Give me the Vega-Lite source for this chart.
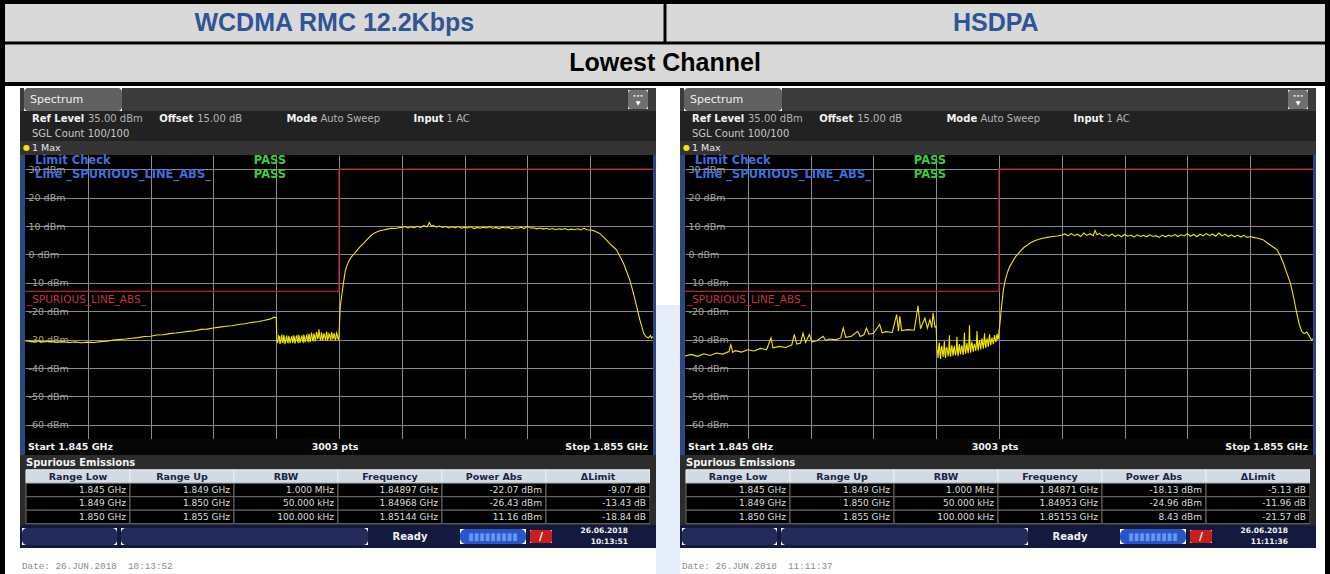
{
"$schema": "https://vega.github.io/schema/vega-lite/v6.json",
"padding": 0,
"background": "#ffffff",
"spacing": 0,
"config": {"view": {"stroke": null}, "font": "DejaVu Sans", "concat": {"spacing": 0}},
"datasets": {
"modes": [{"mode": "WCDMA RMC 12.2Kbps"}, {"mode": "HSDPA"}],
"info": [
 {"label": "Ref Level", "value": "35.00 dBm"},
 {"label": "Offset", "value": "15.00 dB"},
 {"label": "Mode", "value": "Auto Sweep"},
 {"label": "Input", "value": "1 AC"}
],
"limits": [
 {"rangeLow": 1.845, "rangeUp": 1.849, "limit": -13},
 {"rangeLow": 1.849, "rangeUp": 1.85, "limit": -13},
 {"rangeLow": 1.85, "rangeUp": 1.855, "limit": 30}
],
"tableW": [
 {"row": "1", "Range Low": "1.845 GHz", "Range Up": "1.849 GHz", "RBW": "1.000 MHz", "Frequency": "1.84897 GHz", "Power Abs": "-22.07 dBm", "ΔLimit": "-9.07 dB"},
 {"row": "2", "Range Low": "1.849 GHz", "Range Up": "1.850 GHz", "RBW": "50.000 kHz", "Frequency": "1.84968 GHz", "Power Abs": "-26.43 dBm", "ΔLimit": "-13.43 dB"},
 {"row": "3", "Range Low": "1.850 GHz", "Range Up": "1.855 GHz", "RBW": "100.000 kHz", "Frequency": "1.85144 GHz", "Power Abs": "11.16 dBm", "ΔLimit": "-18.84 dB"}
],
"tableH": [
 {"row": "1", "Range Low": "1.845 GHz", "Range Up": "1.849 GHz", "RBW": "1.000 MHz", "Frequency": "1.84871 GHz", "Power Abs": "-18.13 dBm", "ΔLimit": "-5.13 dB"},
 {"row": "2", "Range Low": "1.849 GHz", "Range Up": "1.850 GHz", "RBW": "50.000 kHz", "Frequency": "1.84953 GHz", "Power Abs": "-24.96 dBm", "ΔLimit": "-11.96 dB"},
 {"row": "3", "Range Low": "1.850 GHz", "Range Up": "1.855 GHz", "RBW": "100.000 kHz", "Frequency": "1.85153 GHz", "Power Abs": "8.43 dBm", "ΔLimit": "-21.57 dB"}
],
"traceW": [
{"f":1.8450,"p":-30.4},{"f":1.8451,"p":-30.7},{"f":1.8452,"p":-30.5},{"f":1.8453,"p":-30.8},{"f":1.8454,"p":-30.6},{"f":1.8455,"p":-30.9},{"f":1.8456,"p":-30.7},{"f":1.8457,"p":-31.0},{"f":1.8458,"p":-30.8},{"f":1.8459,"p":-31.1},
{"f":1.8460,"p":-30.9},{"f":1.8461,"p":-31.0},{"f":1.8462,"p":-30.7},{"f":1.8463,"p":-30.6},{"f":1.8464,"p":-30.2},{"f":1.8465,"p":-30.0},{"f":1.8466,"p":-29.8},{"f":1.8467,"p":-29.5},{"f":1.8468,"p":-29.3},{"f":1.8469,"p":-28.9},
{"f":1.8470,"p":-28.8},{"f":1.8471,"p":-28.4},{"f":1.8472,"p":-28.3},{"f":1.8473,"p":-27.9},{"f":1.8474,"p":-27.7},{"f":1.8475,"p":-27.4},{"f":1.8476,"p":-27.1},{"f":1.8477,"p":-26.9},{"f":1.8478,"p":-26.4},{"f":1.8479,"p":-26.3},
{"f":1.8480,"p":-25.9},{"f":1.8481,"p":-25.6},{"f":1.8482,"p":-25.3},{"f":1.8483,"p":-25.1},{"f":1.8484,"p":-24.7},{"f":1.8485,"p":-24.4},{"f":1.8486,"p":-24.0},{"f":1.8487,"p":-23.7},{"f":1.8488,"p":-23.3},{"f":1.8489,"p":-22.8},
{"f":1.84897,"p":-22.1},{"f":1.84900,"p":-22.3},
{"f":1.84902,"p":-31.2},{"f":1.84904,"p":-28.6},{"f":1.84906,"p":-31.5},{"f":1.84908,"p":-29.0},{"f":1.84910,"p":-30.8},{"f":1.84912,"p":-28.4},{"f":1.84914,"p":-31.6},{"f":1.84916,"p":-29.2},{"f":1.84918,"p":-30.9},{"f":1.84920,"p":-28.7},
{"f":1.84922,"p":-31.3},{"f":1.84924,"p":-29.4},{"f":1.84926,"p":-31.0},{"f":1.84928,"p":-28.5},{"f":1.84930,"p":-31.4},{"f":1.84932,"p":-28.9},{"f":1.84934,"p":-30.7},{"f":1.84936,"p":-28.3},{"f":1.84938,"p":-31.2},{"f":1.84940,"p":-29.1},
{"f":1.84942,"p":-30.6},{"f":1.84944,"p":-28.2},{"f":1.84946,"p":-31.0},{"f":1.84948,"p":-28.8},{"f":1.84950,"p":-30.5},{"f":1.84952,"p":-28.0},{"f":1.84954,"p":-30.9},{"f":1.84956,"p":-27.6},{"f":1.84958,"p":-30.2},{"f":1.84960,"p":-27.9},
{"f":1.84962,"p":-30.6},{"f":1.84964,"p":-27.3},{"f":1.84966,"p":-29.8},{"f":1.84968,"p":-26.4},{"f":1.84970,"p":-29.9},{"f":1.84972,"p":-27.5},{"f":1.84974,"p":-30.3},{"f":1.84976,"p":-27.8},{"f":1.84978,"p":-29.7},{"f":1.84980,"p":-27.2},
{"f":1.84982,"p":-30.0},{"f":1.84984,"p":-27.9},{"f":1.84986,"p":-29.6},{"f":1.84988,"p":-27.4},{"f":1.84990,"p":-29.9},{"f":1.84992,"p":-27.7},{"f":1.84994,"p":-30.1},{"f":1.84996,"p":-27.6},{"f":1.84998,"p":-29.5},{"f":1.85000,"p":-28.8},
{"f":1.84901,"p":-29.8},{"f":1.84903,"p":-30.4},{"f":1.84905,"p":-28.9},{"f":1.84907,"p":-30.9},{"f":1.84909,"p":-28.5},{"f":1.84911,"p":-31.0},{"f":1.84913,"p":-29.3},{"f":1.84915,"p":-30.5},{"f":1.84917,"p":-28.8},{"f":1.84919,"p":-31.1},
{"f":1.84921,"p":-29.6},{"f":1.84923,"p":-30.2},{"f":1.84925,"p":-28.7},{"f":1.84927,"p":-30.8},{"f":1.84929,"p":-29.4},{"f":1.84931,"p":-30.3},{"f":1.84933,"p":-28.6},{"f":1.84935,"p":-31.0},{"f":1.84937,"p":-29.5},{"f":1.84939,"p":-30.1},
{"f":1.84941,"p":-28.7},{"f":1.84943,"p":-30.9},{"f":1.84945,"p":-29.3},{"f":1.84947,"p":-30.2},{"f":1.84949,"p":-28.4},{"f":1.84951,"p":-30.7},{"f":1.84953,"p":-28.8},{"f":1.84955,"p":-30.0},{"f":1.84957,"p":-28.3},{"f":1.84959,"p":-30.4},
{"f":1.84961,"p":-28.5},{"f":1.84963,"p":-29.7},{"f":1.84965,"p":-28.0},{"f":1.84967,"p":-29.2},{"f":1.84969,"p":-28.3},{"f":1.84971,"p":-30.1},{"f":1.84973,"p":-28.2},{"f":1.84975,"p":-29.4},{"f":1.84977,"p":-28.6},{"f":1.84979,"p":-30.2},
{"f":1.84981,"p":-28.1},{"f":1.84983,"p":-29.5},{"f":1.84985,"p":-28.3},{"f":1.84987,"p":-30.0},{"f":1.84989,"p":-28.0},{"f":1.84991,"p":-29.3},{"f":1.84993,"p":-28.4},{"f":1.84995,"p":-29.8},{"f":1.84997,"p":-28.1},{"f":1.84999,"p":-29.9},
{"f":1.85002,"p":-18.3},{"f":1.85005,"p":-13.5},{"f":1.85007,"p":-10.1},{"f":1.85010,"p":-6.0},{"f":1.85012,"p":-4.3},{"f":1.85016,"p":-2.2},{"f":1.85020,"p":-0.8},{"f":1.85025,"p":0.4},{"f":1.85030,"p":1.8},{"f":1.85035,"p":3.0},
{"f":1.85039,"p":3.9},{"f":1.85045,"p":5.3},{"f":1.85050,"p":6.4},{"f":1.85055,"p":7.4},{"f":1.85060,"p":7.9},{"f":1.85065,"p":8.3},{"f":1.85071,"p":8.6},{"f":1.85077,"p":8.9},{"f":1.85083,"p":9.2},{"f":1.85090,"p":9.1},
{"f":1.85095,"p":9.4},{"f":1.85100,"p":9.5},{"f":1.85105,"p":9.8},{"f":1.85110,"p":9.3},{"f":1.85115,"p":9.7},{"f":1.85120,"p":9.4},{"f":1.85125,"p":9.9},{"f":1.85130,"p":9.5},{"f":1.85135,"p":10.1},{"f":1.85140,"p":9.7},
{"f":1.85144,"p":11.16},{"f":1.85147,"p":9.9},{"f":1.85150,"p":10.2},{"f":1.85155,"p":9.6},{"f":1.85160,"p":10.0},{"f":1.85165,"p":9.5},{"f":1.85170,"p":9.8},{"f":1.85175,"p":9.3},{"f":1.85180,"p":9.7},{"f":1.85185,"p":9.4},
{"f":1.85190,"p":9.8},{"f":1.85195,"p":9.2},{"f":1.85200,"p":9.6},{"f":1.85205,"p":9.3},{"f":1.85210,"p":9.7},{"f":1.85215,"p":9.1},{"f":1.85220,"p":9.5},{"f":1.85225,"p":9.2},{"f":1.85230,"p":9.6},{"f":1.85235,"p":9.3},
{"f":1.85240,"p":9.7},{"f":1.85245,"p":9.2},{"f":1.85250,"p":9.5},{"f":1.85255,"p":9.1},{"f":1.85260,"p":9.6},{"f":1.85265,"p":9.3},{"f":1.85270,"p":9.5},{"f":1.85275,"p":9.0},{"f":1.85280,"p":9.4},{"f":1.85285,"p":9.2},
{"f":1.85290,"p":9.6},{"f":1.85295,"p":9.1},{"f":1.85300,"p":9.9},{"f":1.85305,"p":9.3},{"f":1.85310,"p":9.4},{"f":1.85315,"p":9.0},{"f":1.85320,"p":9.3},{"f":1.85325,"p":8.9},{"f":1.85330,"p":9.2},{"f":1.85335,"p":8.8},
{"f":1.85340,"p":9.1},{"f":1.85345,"p":8.7},{"f":1.85350,"p":9.0},{"f":1.85355,"p":8.8},{"f":1.85360,"p":9.1},{"f":1.85365,"p":8.6},{"f":1.85370,"p":8.9},{"f":1.85375,"p":8.7},{"f":1.85380,"p":9.0},{"f":1.85385,"p":8.6},
{"f":1.85390,"p":9.2},{"f":1.85395,"p":8.7},{"f":1.85400,"p":8.6},{"f":1.85405,"p":8.4},{"f":1.85410,"p":7.9},{"f":1.85415,"p":7.4},{"f":1.85421,"p":6.2},{"f":1.85426,"p":5.0},{"f":1.85432,"p":3.6},{"f":1.85437,"p":2.6},
{"f":1.85442,"p":1.6},{"f":1.85447,"p":-0.6},{"f":1.85453,"p":-3.1},{"f":1.85458,"p":-6.0},{"f":1.85463,"p":-9.0},{"f":1.85468,"p":-13.0},{"f":1.85474,"p":-18.3},{"f":1.85479,"p":-23.0},{"f":1.85485,"p":-27.7},{"f":1.85489,"p":-29.0},
{"f":1.85493,"p":-29.4},{"f":1.85496,"p":-28.6},{"f":1.85498,"p":-29.5},{"f":1.85500,"p":-28.9}
],
"traceH": [
{"f":1.84500,"p":-35.8},{"f":1.84510,"p":-35.2},{"f":1.84520,"p":-35.9},{"f":1.84530,"p":-35.0},{"f":1.84540,"p":-35.6},{"f":1.84550,"p":-34.7},{"f":1.84560,"p":-35.1},{"f":1.84570,"p":-34.2},{"f":1.84573,"p":-31.8},{"f":1.84576,"p":-34.5},
{"f":1.84580,"p":-33.9},{"f":1.84590,"p":-34.4},{"f":1.84600,"p":-33.6},{"f":1.84610,"p":-34.0},{"f":1.84620,"p":-33.1},{"f":1.84630,"p":-33.5},{"f":1.84637,"p":-29.4},{"f":1.84640,"p":-32.9},{"f":1.84650,"p":-32.4},{"f":1.84660,"p":-32.8},
{"f":1.84670,"p":-31.9},{"f":1.84674,"p":-28.2},{"f":1.84678,"p":-31.6},{"f":1.84684,"p":-31.2},{"f":1.84688,"p":-27.7},{"f":1.84692,"p":-31.0},{"f":1.84698,"p":-28.2},{"f":1.84702,"p":-30.8},{"f":1.84710,"p":-30.4},{"f":1.84720,"p":-28.8},
{"f":1.84724,"p":-30.3},{"f":1.84730,"p":-29.8},{"f":1.84740,"p":-30.1},{"f":1.84748,"p":-29.4},{"f":1.84752,"p":-25.9},{"f":1.84756,"p":-29.2},{"f":1.84765,"p":-28.8},{"f":1.84775,"p":-27.1},{"f":1.84779,"p":-28.9},{"f":1.84785,"p":-28.3},
{"f":1.84789,"p":-25.9},{"f":1.84793,"p":-28.1},{"f":1.84800,"p":-27.8},{"f":1.84810,"p":-24.7},{"f":1.84814,"p":-27.6},{"f":1.84820,"p":-27.2},{"f":1.84830,"p":-27.5},{"f":1.84837,"p":-21.2},{"f":1.84840,"p":-27.0},{"f":1.84842,"p":-21.8},
{"f":1.84845,"p":-26.8},{"f":1.84855,"p":-26.5},{"f":1.84865,"p":-26.7},{"f":1.84871,"p":-18.13},{"f":1.84875,"p":-26.2},{"f":1.84882,"p":-22.4},{"f":1.84886,"p":-26.0},{"f":1.84890,"p":-23.0},{"f":1.84893,"p":-25.8},{"f":1.84895,"p":-20.6},
{"f":1.84898,"p":-25.5},{"f":1.84900,"p":-25.3},
{"f":1.84901,"p":-33.5},{"f":1.84903,"p":-36.5},{"f":1.84905,"p":-31.0},{"f":1.84907,"p":-36.8},{"f":1.84909,"p":-32.2},{"f":1.84911,"p":-36.1},{"f":1.84913,"p":-30.5},{"f":1.84915,"p":-36.4},{"f":1.84917,"p":-32.8},{"f":1.84919,"p":-35.9},
{"f":1.84921,"p":-28.5},{"f":1.84923,"p":-36.0},{"f":1.84925,"p":-31.9},{"f":1.84927,"p":-35.7},{"f":1.84929,"p":-32.5},{"f":1.84931,"p":-35.5},{"f":1.84933,"p":-29.0},{"f":1.84935,"p":-35.8},{"f":1.84937,"p":-31.6},{"f":1.84939,"p":-35.2},
{"f":1.84941,"p":-32.0},{"f":1.84943,"p":-35.4},{"f":1.84945,"p":-27.5},{"f":1.84947,"p":-35.0},{"f":1.84949,"p":-31.2},{"f":1.84951,"p":-34.8},{"f":1.84953,"p":-24.96},{"f":1.84955,"p":-34.6},{"f":1.84957,"p":-30.8},{"f":1.84959,"p":-34.3},
{"f":1.84961,"p":-31.5},{"f":1.84963,"p":-34.0},{"f":1.84965,"p":-27.0},{"f":1.84967,"p":-33.8},{"f":1.84969,"p":-30.2},{"f":1.84971,"p":-33.5},{"f":1.84973,"p":-29.6},{"f":1.84975,"p":-33.2},{"f":1.84977,"p":-27.8},{"f":1.84979,"p":-32.9},
{"f":1.84981,"p":-29.8},{"f":1.84983,"p":-32.6},{"f":1.84985,"p":-28.1},{"f":1.84987,"p":-32.0},{"f":1.84989,"p":-29.5},{"f":1.84991,"p":-31.6},{"f":1.84993,"p":-28.4},{"f":1.84995,"p":-30.9},{"f":1.84997,"p":-28.0},{"f":1.84999,"p":-29.5},
{"f":1.84902,"p":-34.0},{"f":1.84904,"p":-32.5},{"f":1.84906,"p":-35.2},{"f":1.84908,"p":-33.0},{"f":1.84910,"p":-34.6},{"f":1.84912,"p":-33.4},{"f":1.84914,"p":-35.5},{"f":1.84916,"p":-33.1},{"f":1.84918,"p":-34.2},{"f":1.84920,"p":-33.6},
{"f":1.84922,"p":-35.0},{"f":1.84924,"p":-33.2},{"f":1.84926,"p":-34.4},{"f":1.84928,"p":-32.9},{"f":1.84930,"p":-34.8},{"f":1.84932,"p":-33.5},{"f":1.84934,"p":-34.1},{"f":1.84936,"p":-32.6},{"f":1.84938,"p":-34.5},{"f":1.84940,"p":-32.8},
{"f":1.84942,"p":-34.0},{"f":1.84944,"p":-32.3},{"f":1.84946,"p":-33.9},{"f":1.84948,"p":-32.5},{"f":1.84950,"p":-33.6},{"f":1.84952,"p":-32.0},{"f":1.84954,"p":-33.3},{"f":1.84956,"p":-31.8},{"f":1.84958,"p":-33.0},{"f":1.84960,"p":-32.2},
{"f":1.84962,"p":-32.7},{"f":1.84964,"p":-31.4},{"f":1.84966,"p":-32.5},{"f":1.84968,"p":-31.2},{"f":1.84970,"p":-32.0},{"f":1.84972,"p":-30.9},{"f":1.84974,"p":-31.7},{"f":1.84976,"p":-30.6},{"f":1.84978,"p":-31.5},{"f":1.84980,"p":-30.4},
{"f":1.84982,"p":-31.1},{"f":1.84984,"p":-30.0},{"f":1.84986,"p":-30.8},{"f":1.84988,"p":-29.9},{"f":1.84990,"p":-30.5},{"f":1.84992,"p":-29.6},{"f":1.84994,"p":-30.2},{"f":1.84996,"p":-29.0},{"f":1.84998,"p":-29.8},
{"f":1.85000,"p":-27.0},{"f":1.85001,"p":-25.5},{"f":1.85004,"p":-18.5},{"f":1.85007,"p":-12.5},{"f":1.85010,"p":-9.0},{"f":1.85014,"p":-6.0},{"f":1.85017,"p":-4.3},{"f":1.85022,"p":-2.4},{"f":1.85027,"p":-0.6},{"f":1.85031,"p":0.4},
{"f":1.85036,"p":1.6},{"f":1.85040,"p":2.5},{"f":1.85045,"p":3.2},{"f":1.85049,"p":3.9},{"f":1.85055,"p":4.6},{"f":1.85060,"p":5.1},{"f":1.85065,"p":5.4},{"f":1.85070,"p":5.7},{"f":1.85077,"p":6.0},{"f":1.85085,"p":6.3},
{"f":1.85093,"p":6.5},{"f":1.85101,"p":6.8},{"f":1.85105,"p":7.2},{"f":1.85110,"p":6.5},{"f":1.85115,"p":7.4},{"f":1.85120,"p":6.6},{"f":1.85125,"p":7.1},{"f":1.85130,"p":6.3},{"f":1.85135,"p":7.5},{"f":1.85140,"p":6.7},
{"f":1.85145,"p":7.3},{"f":1.85150,"p":6.6},{"f":1.85153,"p":8.43},{"f":1.85156,"p":6.9},{"f":1.85160,"p":7.4},{"f":1.85165,"p":6.5},{"f":1.85170,"p":7.0},{"f":1.85175,"p":6.4},{"f":1.85180,"p":7.2},{"f":1.85185,"p":6.3},
{"f":1.85190,"p":6.9},{"f":1.85195,"p":6.2},{"f":1.85200,"p":7.0},{"f":1.85205,"p":6.4},{"f":1.85210,"p":6.8},{"f":1.85215,"p":6.1},{"f":1.85220,"p":6.9},{"f":1.85225,"p":6.3},{"f":1.85230,"p":6.7},{"f":1.85235,"p":6.2},
{"f":1.85240,"p":6.9},{"f":1.85245,"p":6.3},{"f":1.85250,"p":6.6},{"f":1.85255,"p":6.0},{"f":1.85260,"p":6.8},{"f":1.85265,"p":6.2},{"f":1.85270,"p":6.7},{"f":1.85275,"p":6.4},{"f":1.85280,"p":7.0},{"f":1.85285,"p":6.3},
{"f":1.85290,"p":6.9},{"f":1.85295,"p":6.5},{"f":1.85300,"p":7.3},{"f":1.85305,"p":6.4},{"f":1.85310,"p":7.0},{"f":1.85315,"p":6.2},{"f":1.85320,"p":7.1},{"f":1.85325,"p":6.5},{"f":1.85330,"p":7.4},{"f":1.85335,"p":6.6},
{"f":1.85340,"p":7.2},{"f":1.85345,"p":6.4},{"f":1.85350,"p":7.5},{"f":1.85355,"p":6.5},{"f":1.85360,"p":7.1},{"f":1.85365,"p":6.3},{"f":1.85370,"p":6.9},{"f":1.85375,"p":6.2},{"f":1.85380,"p":6.8},{"f":1.85385,"p":6.1},
{"f":1.85390,"p":6.7},{"f":1.85395,"p":6.0},{"f":1.85400,"p":6.3},{"f":1.85405,"p":6.0},{"f":1.85410,"p":5.8},{"f":1.85415,"p":5.5},{"f":1.85421,"p":5.1},{"f":1.85426,"p":4.2},{"f":1.85432,"p":3.3},{"f":1.85437,"p":2.5},
{"f":1.85443,"p":1.6},{"f":1.85448,"p":-0.6},{"f":1.85453,"p":-3.1},{"f":1.85458,"p":-6.4},{"f":1.85464,"p":-10.1},{"f":1.85469,"p":-15.0},{"f":1.85474,"p":-20.6},{"f":1.85478,"p":-24.5},{"f":1.85482,"p":-27.1},{"f":1.85486,"p":-27.9},
{"f":1.85490,"p":-27.3},{"f":1.85493,"p":-28.4},{"f":1.85496,"p":-29.5},{"f":1.85498,"p":-30.2},{"f":1.85500,"p":-29.6}
]
},
"vconcat": [
{
 "width": 1330, "height": 86,
 "view": {"fill": "#000000"},
 "resolve": {"scale": {"x": "independent"}},
 "layer": [
  {"data": {"name": "modes"}, "mark": {"type": "rect", "color": "#d9d9d9"},
   "encoding": {"x": {"field": "mode", "type": "nominal", "sort": null, "scale": {"type": "band", "domain": ["WCDMA RMC 12.2Kbps", "HSDPA"], "paddingInner": 0.0045, "paddingOuter": 0.0076}, "axis": null},
                "y": {"datum": "mode", "type": "nominal", "scale": {"type": "band", "domain": ["mode", "channel"], "paddingInner": 0.072, "paddingOuter": 0.096}, "axis": null}}},
  {"data": {"name": "modes"}, "mark": {"type": "text", "color": "#2f5597", "fontWeight": "bold", "fontSize": 25, "font": "Liberation Sans, Arial, sans-serif"},
   "encoding": {"x": {"field": "mode", "type": "nominal", "sort": null, "scale": {"type": "band", "domain": ["WCDMA RMC 12.2Kbps", "HSDPA"], "paddingInner": 0.0045, "paddingOuter": 0.0076}, "axis": null},
                "y": {"datum": "mode", "type": "nominal", "axis": null},
                "text": {"field": "mode"}}},
  {"data": {"values": [{"channel": "Lowest Channel"}]}, "mark": {"type": "rect", "color": "#d9d9d9"},
   "encoding": {"x": {"field": "channel", "type": "nominal", "scale": {"type": "band", "paddingInner": 0, "paddingOuter": 0.0038}, "axis": null},
                "y": {"datum": "channel", "type": "nominal", "axis": null}}},
  {"data": {"values": [{"channel": "Lowest Channel"}]}, "mark": {"type": "text", "color": "#000000", "fontWeight": "bold", "fontSize": 25, "font": "Liberation Sans, Arial, sans-serif"},
   "encoding": {"x": {"field": "channel", "type": "nominal", "scale": {"type": "band", "paddingInner": 0, "paddingOuter": 0.0038}, "axis": null},
                "y": {"datum": "channel", "type": "nominal", "axis": null},
                "text": {"field": "channel"}}}
 ]
},
{"spacing": 0, "hconcat": [
 {"width": 5, "height": 488, "data": {"values": []}, "mark": "text", "view": {"fill": "#000000"}},
 {"width": 15, "height": 488, "data": {"values": []}, "mark": "text", "view": {"fill": "#ffffff"}},
 {"spacing": 0, "vconcat": [
  {"width": 636, "height": 2, "data": {"values": []}, "mark": "text", "view": {"fill": "#ffffff"}},
  {"spacing": 0, "hconcat": [
   {"width": 4, "height": 23, "data": {"values": []}, "mark": "text", "view": {"fill": "#3b3b3b"}},
   {"width": 98, "height": 23, "data": {"values": [{}]}, "view": {"fill": "#616161", "cornerRadius": 4},
    "mark": {"type": "text", "text": "Spectrum", "align": "left", "dx": 6, "fontSize": 11, "color": "#f0f0f0"},
    "encoding": {"x": {"datum": 0, "type": "quantitative", "scale": {"domain": [0, 1]}, "axis": null}}},
   {"width": 506, "height": 23, "data": {"values": []}, "mark": "text", "view": {"fill": "#3b3b3b"}},
   {"spacing": 0, "bounds": "flush", "vconcat": [
    {"width": 20, "height": 2, "data": {"values": []}, "mark": "text", "view": {"fill": "#3b3b3b"}},
    {"width": 20, "height": 19, "data": {"values": [{}]}, "view": {"fill": "#707070", "cornerRadius": 3},
     "layer": [
      {"mark": {"type": "text", "text": "•••", "fontSize": 6, "color": "#ffffff", "dy": -4}},
      {"mark": {"type": "text", "text": "▼", "fontSize": 6, "color": "#ffffff", "dy": 3}}
     ]},
    {"width": 20, "height": 2, "data": {"values": []}, "mark": "text", "view": {"fill": "#3b3b3b"}}
   ]},
   {"width": 8, "height": 23, "data": {"values": []}, "mark": "text", "view": {"fill": "#3b3b3b"}}
  ]},
  {"width": 636, "height": 30, "view": {"fill": "#222222"},
   "layer": [
    {"data": {"name": "info"}, "mark": {"type": "text", "align": "left", "dx": 12, "fontSize": 10, "fontWeight": "bold", "color": "#f2f2f2"},
     "encoding": {"x": {"field": "label", "type": "nominal", "scale": {"type": "band", "domain": ["Ref Level", "Offset", "Mode", "Input", "-"], "padding": 0}, "axis": null, "bandPosition": 0},
                  "y": {"datum": "1", "type": "nominal", "scale": {"type": "band", "domain": ["1", "2"], "padding": 0}, "axis": null},
                  "text": {"field": "label"}}},
    {"data": {"name": "info"}, "transform": [{"filter": "datum.label == 'Ref Level'"}], "mark": {"type": "text", "align": "left", "dx": 68, "fontSize": 10, "color": "#b4b4b4"},
     "encoding": {"x": {"field": "label", "type": "nominal", "axis": null, "bandPosition": 0}, "y": {"datum": "1", "type": "nominal", "axis": null}, "text": {"field": "value"}}},
    {"data": {"name": "info"}, "transform": [{"filter": "datum.label == 'Offset'"}], "mark": {"type": "text", "align": "left", "dx": 50, "fontSize": 10, "color": "#b4b4b4"},
     "encoding": {"x": {"field": "label", "type": "nominal", "axis": null, "bandPosition": 0}, "y": {"datum": "1", "type": "nominal", "axis": null}, "text": {"field": "value"}}},
    {"data": {"name": "info"}, "transform": [{"filter": "datum.label == 'Mode'"}], "mark": {"type": "text", "align": "left", "dx": 46, "fontSize": 10, "color": "#b4b4b4"},
     "encoding": {"x": {"field": "label", "type": "nominal", "axis": null, "bandPosition": 0}, "y": {"datum": "1", "type": "nominal", "axis": null}, "text": {"field": "value"}}},
    {"data": {"name": "info"}, "transform": [{"filter": "datum.label == 'Input'"}], "mark": {"type": "text", "align": "left", "dx": 45, "fontSize": 10, "color": "#b4b4b4"},
     "encoding": {"x": {"field": "label", "type": "nominal", "axis": null, "bandPosition": 0}, "y": {"datum": "1", "type": "nominal", "axis": null}, "text": {"field": "value"}}},
    {"data": {"values": [{"text": "SGL Count 100/100"}]}, "mark": {"type": "text", "align": "left", "dx": 12, "fontSize": 10, "color": "#c8c8c8"},
     "encoding": {"x": {"datum": "Ref Level", "type": "nominal", "axis": null, "bandPosition": 0},
                  "y": {"datum": "2", "type": "nominal", "axis": null},
                  "text": {"field": "text"}}}
   ]},
  {"width": 636, "height": 14, "data": {"values": [{}]}, "view": {"fill": "#343434"},
   "layer": [
    {"mark": {"type": "text", "text": "●", "color": "#f5e400", "fontSize": 8, "align": "left", "dx": 3},
     "encoding": {"x": {"datum": 0, "type": "quantitative", "scale": {"domain": [0, 1]}, "axis": null}}},
    {"mark": {"type": "text", "text": "1 Max", "color": "#e8e8e8", "fontSize": 9.5, "align": "left", "dx": 12},
     "encoding": {"x": {"datum": 0, "type": "quantitative", "axis": null}}}
   ]},
  {"spacing": 0, "bounds": "flush", "hconcat": [
   {"width": 5, "height": 284, "data": {"values": []}, "mark": "text", "view": {"fill": "#2d4684"}},
   {"width": 628, "height": 284, "view": {"fill": "#000000"},
    "resolve": {"axis": {"x": "independent", "y": "independent"}},
    "layer": [
     {"data": {"name": "limits"}, "transform": [{"fold": ["rangeLow", "rangeUp"], "as": ["edge", "freq"]}],
      "mark": {"type": "line", "color": "#b3262b", "strokeWidth": 1.3},
      "encoding": {
       "x": {"field": "freq", "type": "quantitative", "scale": {"domain": [1.845, 1.855], "nice": false, "zero": false},
             "axis": {"values": [1.846, 1.847, 1.848, 1.849, 1.85, 1.851, 1.852, 1.853, 1.854], "grid": true, "gridColor": "#8a8a8a", "labels": false, "ticks": false, "domain": false, "title": null}},
       "y": {"field": "limit", "type": "quantitative", "scale": {"domain": [-65, 35], "nice": false, "zero": false},
             "axis": {"values": [-60, -50, -40, -30, -20, -10, 0, 10, 20, 30], "grid": true, "gridColor": "#8a8a8a", "ticks": false, "tickSize": 0, "domain": false, "title": null, "labelAlign": "left", "labelPadding": -3, "labelColor": "#a3a3a3", "labelFontSize": 9.5, "labelExpr": "datum.value + ' dBm'", "labelOverlap": false, "labelBound": false, "labelFlush": false}}}},
     {"data": {"name": "traceW"}, "mark": {"type": "line", "color": "#f2e600", "strokeWidth": 1.1},
      "encoding": {"x": {"field": "f", "type": "quantitative", "axis": null}, "y": {"field": "p", "type": "quantitative", "axis": null}}},
     {"data": {"values": [{}]}, "mark": {"type": "text", "text": "Limit Check", "align": "left", "fontWeight": "bold", "fontSize": 11.5, "color": "#3d6fdc"},
      "encoding": {"x": {"datum": 1.84516, "axis": null}, "y": {"datum": 32.8, "axis": null}}},
     {"data": {"values": [{}]}, "mark": {"type": "text", "text": "Line _SPURIOUS_LINE_ABS_", "align": "left", "fontWeight": "bold", "fontSize": 11.5, "color": "#3d6fdc"},
      "encoding": {"x": {"datum": 1.84516, "axis": null}, "y": {"datum": 27.9, "axis": null}}},
     {"data": {"values": [{}]}, "mark": {"type": "text", "text": "PASS", "fontWeight": "bold", "fontSize": 11.5, "color": "#3dcc3d"},
      "encoding": {"x": {"datum": 1.8489, "axis": null}, "y": {"datum": 32.8, "axis": null}}},
     {"data": {"values": [{}]}, "mark": {"type": "text", "text": "PASS", "fontWeight": "bold", "fontSize": 11.5, "color": "#3dcc3d"},
      "encoding": {"x": {"datum": 1.8489, "axis": null}, "y": {"datum": 27.9, "axis": null}}},
     {"data": {"values": [{}]}, "mark": {"type": "text", "text": "_SPURIOUS_LINE_ABS_", "align": "left", "fontSize": 10.5, "color": "#c4373a"},
      "encoding": {"x": {"datum": 1.84503, "axis": null}, "y": {"datum": -16, "axis": null}}}
    ]},
   {"width": 3, "height": 284, "data": {"values": []}, "mark": "text", "view": {"fill": "#2d4684"}}
  ]},
  {"spacing": 0, "bounds": "flush", "hconcat": [
   {"width": 5, "height": 16, "data": {"values": []}, "mark": "text", "view": {"fill": "#2d4684"}},
   {"width": 628, "height": 16, "data": {"values": [{}]}, "view": {"fill": "#060606"},
    "layer": [
     {"mark": {"type": "text", "text": "Start 1.845 GHz", "align": "left", "dx": 3, "fontWeight": "bold", "fontSize": 9.5, "color": "#f2f2f2"},
      "encoding": {"x": {"datum": 1.845, "type": "quantitative", "scale": {"domain": [1.845, 1.855], "nice": false, "zero": false}, "axis": null}}},
     {"mark": {"type": "text", "text": "3003 pts", "align": "center", "dx": -4, "fontWeight": "bold", "fontSize": 9.5, "color": "#f2f2f2"},
      "encoding": {"x": {"datum": 1.85, "type": "quantitative", "axis": null}}},
     {"mark": {"type": "text", "text": "Stop 1.855 GHz", "align": "right", "dx": -5, "fontWeight": "bold", "fontSize": 9.5, "color": "#f2f2f2"},
      "encoding": {"x": {"datum": 1.855, "type": "quantitative", "axis": null}}}
    ]},
   {"width": 3, "height": 16, "data": {"values": []}, "mark": "text", "view": {"fill": "#2d4684"}}
  ]},
  {"spacing": 0, "bounds": "flush", "hconcat": [
   {"width": 6, "height": 70, "data": {"values": []}, "mark": "text", "view": {"fill": "#2c2c2c"}},
   {"width": 624, "height": 70, "view": {"fill": "#2c2c2c"},
    "data": {"name": "tableW"},
    "transform": [{"fold": ["Range Low", "Range Up", "RBW", "Frequency", "Power Abs", "ΔLimit"], "as": ["col", "val"]}],
    "layer": [
     {"transform": [{"filter": "datum.row == '1'"}],
      "mark": {"type": "rect", "fill": "#d2dae4", "stroke": "#eef2f6", "strokeWidth": 1},
      "encoding": {"x": {"field": "col", "type": "nominal", "sort": null, "scale": {"type": "band", "domain": ["Range Low", "Range Up", "RBW", "Frequency", "Power Abs", "ΔLimit"], "padding": 0}, "axis": null},
                   "y": {"datum": "header", "type": "nominal", "scale": {"type": "band", "domain": ["title", "header", "1", "2", "3"], "paddingInner": 0, "paddingOuter": 0.1}, "axis": null}}},
     {"transform": [{"filter": "datum.row == '1'"}],
      "mark": {"type": "text", "fontWeight": "bold", "fontSize": 9.5, "color": "#1c2444"},
      "encoding": {"x": {"field": "col", "type": "nominal", "sort": null, "axis": null},
                   "y": {"datum": "header", "type": "nominal", "axis": null},
                   "text": {"field": "col"}}},
     {"mark": {"type": "rect", "fill": "#000000", "stroke": "#6a6a6a", "strokeWidth": 1},
      "encoding": {"x": {"field": "col", "type": "nominal", "sort": null, "axis": null},
                   "y": {"field": "row", "type": "nominal", "axis": null}}},
     {"mark": {"type": "text", "align": "right", "dx": -4, "fontSize": 9, "color": "#dcdcdc"},
      "encoding": {"x": {"field": "col", "type": "nominal", "sort": null, "axis": null, "bandPosition": 1},
                   "y": {"field": "row", "type": "nominal", "axis": null},
                   "text": {"field": "val"}}},
     {"transform": [{"filter": "datum.row == '1' && datum.col == 'Range Low'"}],
      "mark": {"type": "text", "text": "Spurious Emissions", "align": "left", "fontWeight": "bold", "fontSize": 10, "color": "#f4f4f4"},
      "encoding": {"x": {"field": "col", "type": "nominal", "sort": null, "axis": null, "bandPosition": 0},
                   "y": {"datum": "title", "type": "nominal", "axis": null}}}
    ]},
   {"width": 6, "height": 70, "data": {"values": []}, "mark": "text", "view": {"fill": "#2c2c2c"}}
  ]},
  {"spacing": 0, "hconcat": [
   {"width": 2, "height": 23, "data": {"values": []}, "mark": "text", "view": {"fill": "#141a3e"}},
   {"spacing": 0, "bounds": "flush", "vconcat": [
    {"width": 95, "height": 3, "data": {"values": []}, "mark": "text", "view": {"fill": "#141a3e"}},
    {"width": 95, "height": 17, "data": {"values": []}, "mark": "text", "view": {"fill": "#232b5a", "cornerRadius": 5}},
    {"width": 95, "height": 3, "data": {"values": []}, "mark": "text", "view": {"fill": "#141a3e"}}
   ]},
   {"width": 4, "height": 23, "data": {"values": []}, "mark": "text", "view": {"fill": "#141a3e"}},
   {"spacing": 0, "bounds": "flush", "vconcat": [
    {"width": 247, "height": 3, "data": {"values": []}, "mark": "text", "view": {"fill": "#141a3e"}},
    {"width": 247, "height": 17, "data": {"values": []}, "mark": "text", "view": {"fill": "#232b5a", "cornerRadius": 5}},
    {"width": 247, "height": 3, "data": {"values": []}, "mark": "text", "view": {"fill": "#141a3e"}}
   ]},
   {"width": 2, "height": 23, "data": {"values": []}, "mark": "text", "view": {"fill": "#141a3e"}},
   {"width": 80, "height": 23, "data": {"values": [{}]}, "view": {"fill": "#141a3e"},
    "mark": {"type": "text", "text": "Ready", "fontWeight": "bold", "fontSize": 10, "color": "#f0f0f0"}},
   {"width": 10, "height": 23, "data": {"values": []}, "mark": "text", "view": {"fill": "#141a3e"}},
   {"spacing": 0, "bounds": "flush", "vconcat": [
    {"width": 66, "height": 4, "data": {"values": []}, "mark": "text", "view": {"fill": "#141a3e"}},
    {"width": 66, "height": 15, "data": {"values": [{}]}, "view": {"fill": "#2856c8", "cornerRadius": 6},
     "mark": {"type": "text", "text": "▮▮▮▮▮▮▮▮▮", "fontSize": 10, "color": "#6a96ee"}},
    {"width": 66, "height": 4, "data": {"values": []}, "mark": "text", "view": {"fill": "#141a3e"}}
   ]},
   {"width": 4, "height": 23, "data": {"values": []}, "mark": "text", "view": {"fill": "#141a3e"}},
   {"spacing": 0, "bounds": "flush", "vconcat": [
    {"width": 22, "height": 5, "data": {"values": []}, "mark": "text", "view": {"fill": "#141a3e"}},
    {"width": 22, "height": 13, "data": {"values": [{}]}, "view": {"fill": "#c81e1e", "cornerRadius": 2},
     "mark": {"type": "text", "text": "/", "fontWeight": "bold", "fontSize": 11, "color": "#ffffff"}},
    {"width": 22, "height": 5, "data": {"values": []}, "mark": "text", "view": {"fill": "#141a3e"}}
   ]},
   {"width": 104, "height": 23, "view": {"fill": "#141a3e"},
    "data": {"values": [{"line": "d", "text": "26.06.2018"}, {"line": "t", "text": "10:13:51"}]},
    "mark": {"type": "text", "fontWeight": "bold", "fontSize": 7.5, "color": "#f0f0f0", "align": "right", "dx": -28},
    "encoding": {"x": {"datum": 1, "type": "quantitative", "scale": {"domain": [0, 1]}, "axis": null},
                 "y": {"field": "line", "type": "nominal", "sort": null, "scale": {"type": "band", "padding": 0.1}, "axis": null},
                 "text": {"field": "text"}}}
  ]},
  {"width": 636, "height": 26, "data": {"values": [{}]}, "view": {"fill": "#ffffff"},
   "mark": {"type": "text", "text": "Date: 26.JUN.2018\u00a0 10:13:52", "align": "left", "dx": 2, "dy": 5, "font": "Liberation Mono", "fontSize": 9.3, "color": "#8a8a8a"},
   "encoding": {"x": {"datum": 0, "type": "quantitative", "scale": {"domain": [0, 1]}, "axis": null}}}
 ]},
 {"spacing": 0, "bounds": "flush", "vconcat": [
  {"width": 24, "height": 219, "data": {"values": []}, "mark": "text", "view": {"fill": "#ffffff"}},
  {"width": 24, "height": 269, "data": {"values": []}, "mark": "text", "view": {"fill": "#e5eefa"}}
 ]},
 {"spacing": 0, "vconcat": [
  {"width": 636, "height": 2, "data": {"values": []}, "mark": "text", "view": {"fill": "#ffffff"}},
  {"spacing": 0, "hconcat": [
   {"width": 4, "height": 23, "data": {"values": []}, "mark": "text", "view": {"fill": "#3b3b3b"}},
   {"width": 98, "height": 23, "data": {"values": [{}]}, "view": {"fill": "#616161", "cornerRadius": 4},
    "mark": {"type": "text", "text": "Spectrum", "align": "left", "dx": 6, "fontSize": 11, "color": "#f0f0f0"},
    "encoding": {"x": {"datum": 0, "type": "quantitative", "scale": {"domain": [0, 1]}, "axis": null}}},
   {"width": 506, "height": 23, "data": {"values": []}, "mark": "text", "view": {"fill": "#3b3b3b"}},
   {"spacing": 0, "bounds": "flush", "vconcat": [
    {"width": 20, "height": 2, "data": {"values": []}, "mark": "text", "view": {"fill": "#3b3b3b"}},
    {"width": 20, "height": 19, "data": {"values": [{}]}, "view": {"fill": "#707070", "cornerRadius": 3},
     "layer": [
      {"mark": {"type": "text", "text": "•••", "fontSize": 6, "color": "#ffffff", "dy": -4}},
      {"mark": {"type": "text", "text": "▼", "fontSize": 6, "color": "#ffffff", "dy": 3}}
     ]},
    {"width": 20, "height": 2, "data": {"values": []}, "mark": "text", "view": {"fill": "#3b3b3b"}}
   ]},
   {"width": 8, "height": 23, "data": {"values": []}, "mark": "text", "view": {"fill": "#3b3b3b"}}
  ]},
  {"width": 636, "height": 30, "view": {"fill": "#222222"},
   "layer": [
    {"data": {"name": "info"}, "mark": {"type": "text", "align": "left", "dx": 12, "fontSize": 10, "fontWeight": "bold", "color": "#f2f2f2"},
     "encoding": {"x": {"field": "label", "type": "nominal", "scale": {"type": "band", "domain": ["Ref Level", "Offset", "Mode", "Input", "-"], "padding": 0}, "axis": null, "bandPosition": 0},
                  "y": {"datum": "1", "type": "nominal", "scale": {"type": "band", "domain": ["1", "2"], "padding": 0}, "axis": null},
                  "text": {"field": "label"}}},
    {"data": {"name": "info"}, "transform": [{"filter": "datum.label == 'Ref Level'"}], "mark": {"type": "text", "align": "left", "dx": 68, "fontSize": 10, "color": "#b4b4b4"},
     "encoding": {"x": {"field": "label", "type": "nominal", "axis": null, "bandPosition": 0}, "y": {"datum": "1", "type": "nominal", "axis": null}, "text": {"field": "value"}}},
    {"data": {"name": "info"}, "transform": [{"filter": "datum.label == 'Offset'"}], "mark": {"type": "text", "align": "left", "dx": 50, "fontSize": 10, "color": "#b4b4b4"},
     "encoding": {"x": {"field": "label", "type": "nominal", "axis": null, "bandPosition": 0}, "y": {"datum": "1", "type": "nominal", "axis": null}, "text": {"field": "value"}}},
    {"data": {"name": "info"}, "transform": [{"filter": "datum.label == 'Mode'"}], "mark": {"type": "text", "align": "left", "dx": 46, "fontSize": 10, "color": "#b4b4b4"},
     "encoding": {"x": {"field": "label", "type": "nominal", "axis": null, "bandPosition": 0}, "y": {"datum": "1", "type": "nominal", "axis": null}, "text": {"field": "value"}}},
    {"data": {"name": "info"}, "transform": [{"filter": "datum.label == 'Input'"}], "mark": {"type": "text", "align": "left", "dx": 45, "fontSize": 10, "color": "#b4b4b4"},
     "encoding": {"x": {"field": "label", "type": "nominal", "axis": null, "bandPosition": 0}, "y": {"datum": "1", "type": "nominal", "axis": null}, "text": {"field": "value"}}},
    {"data": {"values": [{"text": "SGL Count 100/100"}]}, "mark": {"type": "text", "align": "left", "dx": 12, "fontSize": 10, "color": "#c8c8c8"},
     "encoding": {"x": {"datum": "Ref Level", "type": "nominal", "axis": null, "bandPosition": 0},
                  "y": {"datum": "2", "type": "nominal", "axis": null},
                  "text": {"field": "text"}}}
   ]},
  {"width": 636, "height": 14, "data": {"values": [{}]}, "view": {"fill": "#343434"},
   "layer": [
    {"mark": {"type": "text", "text": "●", "color": "#f5e400", "fontSize": 8, "align": "left", "dx": 3},
     "encoding": {"x": {"datum": 0, "type": "quantitative", "scale": {"domain": [0, 1]}, "axis": null}}},
    {"mark": {"type": "text", "text": "1 Max", "color": "#e8e8e8", "fontSize": 9.5, "align": "left", "dx": 12},
     "encoding": {"x": {"datum": 0, "type": "quantitative", "axis": null}}}
   ]},
  {"spacing": 0, "bounds": "flush", "hconcat": [
   {"width": 5, "height": 284, "data": {"values": []}, "mark": "text", "view": {"fill": "#2d4684"}},
   {"width": 628, "height": 284, "view": {"fill": "#000000"},
    "resolve": {"axis": {"x": "independent", "y": "independent"}},
    "layer": [
     {"data": {"name": "limits"}, "transform": [{"fold": ["rangeLow", "rangeUp"], "as": ["edge", "freq"]}],
      "mark": {"type": "line", "color": "#b3262b", "strokeWidth": 1.3},
      "encoding": {
       "x": {"field": "freq", "type": "quantitative", "scale": {"domain": [1.845, 1.855], "nice": false, "zero": false},
             "axis": {"values": [1.846, 1.847, 1.848, 1.849, 1.85, 1.851, 1.852, 1.853, 1.854], "grid": true, "gridColor": "#8a8a8a", "labels": false, "ticks": false, "domain": false, "title": null}},
       "y": {"field": "limit", "type": "quantitative", "scale": {"domain": [-65, 35], "nice": false, "zero": false},
             "axis": {"values": [-60, -50, -40, -30, -20, -10, 0, 10, 20, 30], "grid": true, "gridColor": "#8a8a8a", "ticks": false, "tickSize": 0, "domain": false, "title": null, "labelAlign": "left", "labelPadding": -3, "labelColor": "#a3a3a3", "labelFontSize": 9.5, "labelExpr": "datum.value + ' dBm'", "labelOverlap": false, "labelBound": false, "labelFlush": false}}}},
     {"data": {"name": "traceH"}, "mark": {"type": "line", "color": "#f2e600", "strokeWidth": 1.1},
      "encoding": {"x": {"field": "f", "type": "quantitative", "axis": null}, "y": {"field": "p", "type": "quantitative", "axis": null}}},
     {"data": {"values": [{}]}, "mark": {"type": "text", "text": "Limit Check", "align": "left", "fontWeight": "bold", "fontSize": 11.5, "color": "#3d6fdc"},
      "encoding": {"x": {"datum": 1.84516, "axis": null}, "y": {"datum": 32.8, "axis": null}}},
     {"data": {"values": [{}]}, "mark": {"type": "text", "text": "Line _SPURIOUS_LINE_ABS_", "align": "left", "fontWeight": "bold", "fontSize": 11.5, "color": "#3d6fdc"},
      "encoding": {"x": {"datum": 1.84516, "axis": null}, "y": {"datum": 27.9, "axis": null}}},
     {"data": {"values": [{}]}, "mark": {"type": "text", "text": "PASS", "fontWeight": "bold", "fontSize": 11.5, "color": "#3dcc3d"},
      "encoding": {"x": {"datum": 1.8489, "axis": null}, "y": {"datum": 32.8, "axis": null}}},
     {"data": {"values": [{}]}, "mark": {"type": "text", "text": "PASS", "fontWeight": "bold", "fontSize": 11.5, "color": "#3dcc3d"},
      "encoding": {"x": {"datum": 1.8489, "axis": null}, "y": {"datum": 27.9, "axis": null}}},
     {"data": {"values": [{}]}, "mark": {"type": "text", "text": "_SPURIOUS_LINE_ABS_", "align": "left", "fontSize": 10.5, "color": "#c4373a"},
      "encoding": {"x": {"datum": 1.84503, "axis": null}, "y": {"datum": -16, "axis": null}}}
    ]},
   {"width": 3, "height": 284, "data": {"values": []}, "mark": "text", "view": {"fill": "#2d4684"}}
  ]},
  {"spacing": 0, "bounds": "flush", "hconcat": [
   {"width": 5, "height": 16, "data": {"values": []}, "mark": "text", "view": {"fill": "#2d4684"}},
   {"width": 628, "height": 16, "data": {"values": [{}]}, "view": {"fill": "#060606"},
    "layer": [
     {"mark": {"type": "text", "text": "Start 1.845 GHz", "align": "left", "dx": 3, "fontWeight": "bold", "fontSize": 9.5, "color": "#f2f2f2"},
      "encoding": {"x": {"datum": 1.845, "type": "quantitative", "scale": {"domain": [1.845, 1.855], "nice": false, "zero": false}, "axis": null}}},
     {"mark": {"type": "text", "text": "3003 pts", "align": "center", "dx": -4, "fontWeight": "bold", "fontSize": 9.5, "color": "#f2f2f2"},
      "encoding": {"x": {"datum": 1.85, "type": "quantitative", "axis": null}}},
     {"mark": {"type": "text", "text": "Stop 1.855 GHz", "align": "right", "dx": -5, "fontWeight": "bold", "fontSize": 9.5, "color": "#f2f2f2"},
      "encoding": {"x": {"datum": 1.855, "type": "quantitative", "axis": null}}}
    ]},
   {"width": 3, "height": 16, "data": {"values": []}, "mark": "text", "view": {"fill": "#2d4684"}}
  ]},
  {"spacing": 0, "bounds": "flush", "hconcat": [
   {"width": 6, "height": 70, "data": {"values": []}, "mark": "text", "view": {"fill": "#2c2c2c"}},
   {"width": 624, "height": 70, "view": {"fill": "#2c2c2c"},
    "data": {"name": "tableH"},
    "transform": [{"fold": ["Range Low", "Range Up", "RBW", "Frequency", "Power Abs", "ΔLimit"], "as": ["col", "val"]}],
    "layer": [
     {"transform": [{"filter": "datum.row == '1'"}],
      "mark": {"type": "rect", "fill": "#d2dae4", "stroke": "#eef2f6", "strokeWidth": 1},
      "encoding": {"x": {"field": "col", "type": "nominal", "sort": null, "scale": {"type": "band", "domain": ["Range Low", "Range Up", "RBW", "Frequency", "Power Abs", "ΔLimit"], "padding": 0}, "axis": null},
                   "y": {"datum": "header", "type": "nominal", "scale": {"type": "band", "domain": ["title", "header", "1", "2", "3"], "paddingInner": 0, "paddingOuter": 0.1}, "axis": null}}},
     {"transform": [{"filter": "datum.row == '1'"}],
      "mark": {"type": "text", "fontWeight": "bold", "fontSize": 9.5, "color": "#1c2444"},
      "encoding": {"x": {"field": "col", "type": "nominal", "sort": null, "axis": null},
                   "y": {"datum": "header", "type": "nominal", "axis": null},
                   "text": {"field": "col"}}},
     {"mark": {"type": "rect", "fill": "#000000", "stroke": "#6a6a6a", "strokeWidth": 1},
      "encoding": {"x": {"field": "col", "type": "nominal", "sort": null, "axis": null},
                   "y": {"field": "row", "type": "nominal", "axis": null}}},
     {"mark": {"type": "text", "align": "right", "dx": -4, "fontSize": 9, "color": "#dcdcdc"},
      "encoding": {"x": {"field": "col", "type": "nominal", "sort": null, "axis": null, "bandPosition": 1},
                   "y": {"field": "row", "type": "nominal", "axis": null},
                   "text": {"field": "val"}}},
     {"transform": [{"filter": "datum.row == '1' && datum.col == 'Range Low'"}],
      "mark": {"type": "text", "text": "Spurious Emissions", "align": "left", "fontWeight": "bold", "fontSize": 10, "color": "#f4f4f4"},
      "encoding": {"x": {"field": "col", "type": "nominal", "sort": null, "axis": null, "bandPosition": 0},
                   "y": {"datum": "title", "type": "nominal", "axis": null}}}
    ]},
   {"width": 6, "height": 70, "data": {"values": []}, "mark": "text", "view": {"fill": "#2c2c2c"}}
  ]},
  {"spacing": 0, "hconcat": [
   {"width": 2, "height": 23, "data": {"values": []}, "mark": "text", "view": {"fill": "#141a3e"}},
   {"spacing": 0, "bounds": "flush", "vconcat": [
    {"width": 95, "height": 3, "data": {"values": []}, "mark": "text", "view": {"fill": "#141a3e"}},
    {"width": 95, "height": 17, "data": {"values": []}, "mark": "text", "view": {"fill": "#232b5a", "cornerRadius": 5}},
    {"width": 95, "height": 3, "data": {"values": []}, "mark": "text", "view": {"fill": "#141a3e"}}
   ]},
   {"width": 4, "height": 23, "data": {"values": []}, "mark": "text", "view": {"fill": "#141a3e"}},
   {"spacing": 0, "bounds": "flush", "vconcat": [
    {"width": 247, "height": 3, "data": {"values": []}, "mark": "text", "view": {"fill": "#141a3e"}},
    {"width": 247, "height": 17, "data": {"values": []}, "mark": "text", "view": {"fill": "#232b5a", "cornerRadius": 5}},
    {"width": 247, "height": 3, "data": {"values": []}, "mark": "text", "view": {"fill": "#141a3e"}}
   ]},
   {"width": 2, "height": 23, "data": {"values": []}, "mark": "text", "view": {"fill": "#141a3e"}},
   {"width": 80, "height": 23, "data": {"values": [{}]}, "view": {"fill": "#141a3e"},
    "mark": {"type": "text", "text": "Ready", "fontWeight": "bold", "fontSize": 10, "color": "#f0f0f0"}},
   {"width": 10, "height": 23, "data": {"values": []}, "mark": "text", "view": {"fill": "#141a3e"}},
   {"spacing": 0, "bounds": "flush", "vconcat": [
    {"width": 66, "height": 4, "data": {"values": []}, "mark": "text", "view": {"fill": "#141a3e"}},
    {"width": 66, "height": 15, "data": {"values": [{}]}, "view": {"fill": "#2856c8", "cornerRadius": 6},
     "mark": {"type": "text", "text": "▮▮▮▮▮▮▮▮▮", "fontSize": 10, "color": "#6a96ee"}},
    {"width": 66, "height": 4, "data": {"values": []}, "mark": "text", "view": {"fill": "#141a3e"}}
   ]},
   {"width": 4, "height": 23, "data": {"values": []}, "mark": "text", "view": {"fill": "#141a3e"}},
   {"spacing": 0, "bounds": "flush", "vconcat": [
    {"width": 22, "height": 5, "data": {"values": []}, "mark": "text", "view": {"fill": "#141a3e"}},
    {"width": 22, "height": 13, "data": {"values": [{}]}, "view": {"fill": "#c81e1e", "cornerRadius": 2},
     "mark": {"type": "text", "text": "/", "fontWeight": "bold", "fontSize": 11, "color": "#ffffff"}},
    {"width": 22, "height": 5, "data": {"values": []}, "mark": "text", "view": {"fill": "#141a3e"}}
   ]},
   {"width": 104, "height": 23, "view": {"fill": "#141a3e"},
    "data": {"values": [{"line": "d", "text": "26.06.2018"}, {"line": "t", "text": "11:11:36"}]},
    "mark": {"type": "text", "fontWeight": "bold", "fontSize": 7.5, "color": "#f0f0f0", "align": "right", "dx": -28},
    "encoding": {"x": {"datum": 1, "type": "quantitative", "scale": {"domain": [0, 1]}, "axis": null},
                 "y": {"field": "line", "type": "nominal", "sort": null, "scale": {"type": "band", "padding": 0.1}, "axis": null},
                 "text": {"field": "text"}}}
  ]},
  {"width": 636, "height": 26, "data": {"values": [{}]}, "view": {"fill": "#ffffff"},
   "mark": {"type": "text", "text": "Date: 26.JUN.2018\u00a0 11:11:37", "align": "left", "dx": 2, "dy": 5, "font": "Liberation Mono", "fontSize": 9.3, "color": "#8a8a8a"},
   "encoding": {"x": {"datum": 0, "type": "quantitative", "scale": {"domain": [0, 1]}, "axis": null}}}
 ]},
 {"width": 9, "height": 488, "data": {"values": []}, "mark": "text", "view": {"fill": "#ffffff"}},
 {"width": 5, "height": 488, "data": {"values": []}, "mark": "text", "view": {"fill": "#000000"}}
]}
]
}
